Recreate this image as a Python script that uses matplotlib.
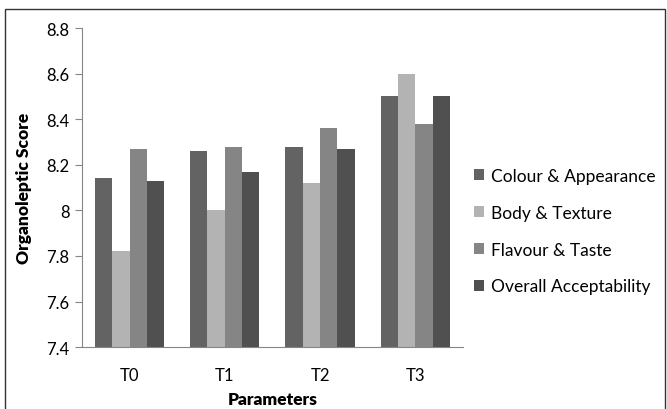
import numpy as np
from matplotlib import pyplot as plt
from matplotlib.patches import Rectangle

plt.rcParams['font.family'] = ['Lato', 'DejaVu Sans']

treatments = ["T0", "T1", "T2", "T3"]
series_names = ["Colour & Appearance", "Body & Texture", "Flavour & Taste", "Overall Acceptability"]
colour_appearance = [8.14, 8.26, 8.28, 8.50]
body_texture = [7.82, 8.00, 8.12, 8.60]
flavour_taste = [8.27, 8.28, 8.36, 8.38]
overall_accept = [8.13, 8.17, 8.27, 8.50]
yticks = [7.4, 7.6, 7.8, 8.0, 8.2, 8.4, 8.6, 8.8]
ytick_labels = ["7.4", "7.6", "7.8", "8", "8.2", "8.4", "8.6", "8.8"]

values = [colour_appearance, body_texture, flavour_taste, overall_accept]
colors = ["#636363", "#b3b3b3", "#858585", "#505050"]

fig = plt.figure(figsize=(6.67, 4.10), dpi=100)
ax = fig.add_axes([0.1229, 0.151, 0.5711, 0.778])

x = np.arange(len(treatments))
w = 0.182
for k in range(4):
    ax.bar(x + (k - 1.5) * w, values[k], width=w, color=colors[k], label=series_names[k])

ax.set_xlim(-0.5, 3.5)
ax.set_ylim(7.4, 8.8)
ax.set_yticks(yticks)
ax.set_yticklabels(ytick_labels, fontsize=12)
ax.set_xticks(x)
ax.set_xticklabels(treatments, fontsize=12)
ax.tick_params(axis='x', length=0, pad=14)
ax.tick_params(axis='y', length=5, color="#868686", direction='out', pad=4)
for s in ["top", "right"]:
    ax.spines[s].set_visible(False)
ax.spines["left"].set_color("#868686")
ax.spines["bottom"].set_color("#868686")

ax.set_ylabel("Organoleptic Score", fontsize=12.5, fontweight='heavy', labelpad=10)
ax.set_xlabel("Parameters", fontsize=12.5, fontweight='heavy', labelpad=6)

fig.legend(loc='upper left', bbox_to_anchor=(0.7, 0.605), frameon=False,
           fontsize=12.5, handlelength=0.6, handleheight=0.6, handletextpad=0.4,
           labelspacing=1.2, borderaxespad=0)

fig.patches.append(Rectangle((0.008, -0.01), 0.989, 0.985, transform=fig.transFigure,
                             fill=False, edgecolor="#333333", linewidth=1))

plt.savefig("out.png", dpi=100)
